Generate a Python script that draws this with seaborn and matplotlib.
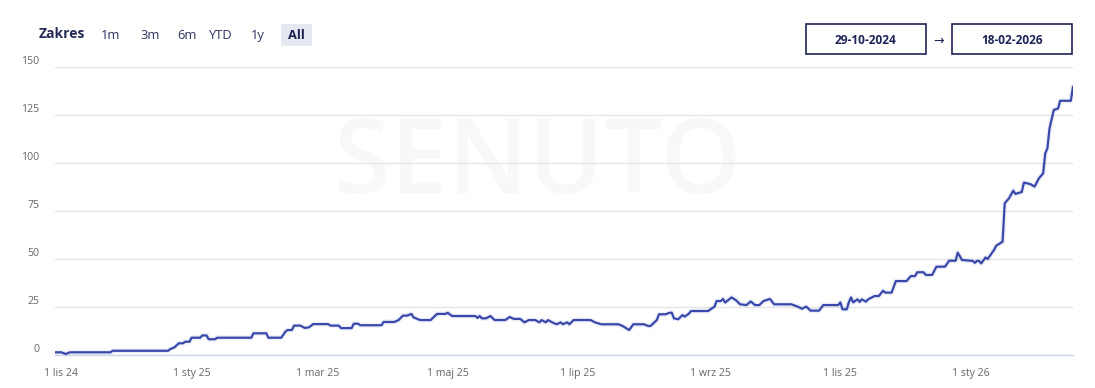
import matplotlib
matplotlib.use("Agg")
import matplotlib.pyplot as plt
from matplotlib.patches import Rectangle, FancyBboxPatch
import seaborn as sns
import pandas as pd

# ---- data -------------------------------------------------------------
dates = [
    "2024-10-29", "2024-11-01", "2024-11-03", "2024-11-05", "2024-11-24", "2024-11-25",
    "2024-12-21", "2024-12-22", "2024-12-24", "2024-12-26", "2024-12-28", "2024-12-29",
    "2024-12-31", "2025-01-01", "2025-01-05", "2025-01-06", "2025-01-08", "2025-01-09",
    "2025-01-12", "2025-01-13", "2025-01-29", "2025-01-30", "2025-02-05", "2025-02-06",
    "2025-02-12", "2025-02-14", "2025-02-15", "2025-02-17", "2025-02-18", "2025-02-21",
    "2025-02-23", "2025-02-25", "2025-02-27", "2025-03-06", "2025-03-07", "2025-03-11",
    "2025-03-12", "2025-03-17", "2025-03-18", "2025-03-20", "2025-03-21", "2025-03-31",
    "2025-04-01", "2025-04-06", "2025-04-08", "2025-04-10", "2025-04-12", "2025-04-14",
    "2025-04-15", "2025-04-18", "2025-04-23", "2025-04-26", "2025-04-30", "2025-05-01",
    "2025-05-03", "2025-05-14", "2025-05-15", "2025-05-16", "2025-05-17", "2025-05-19",
    "2025-05-21", "2025-05-23", "2025-05-28", "2025-05-30", "2025-06-01", "2025-06-04",
    "2025-06-06", "2025-06-08", "2025-06-11", "2025-06-13", "2025-06-14", "2025-06-16",
    "2025-06-17", "2025-06-19", "2025-06-21", "2025-06-23", "2025-06-24", "2025-06-26",
    "2025-06-27", "2025-06-29", "2025-07-07", "2025-07-09", "2025-07-12", "2025-07-20",
    "2025-07-22", "2025-07-25", "2025-07-27", "2025-08-01", "2025-08-03", "2025-08-04",
    "2025-08-06", "2025-08-07", "2025-08-08", "2025-08-11", "2025-08-13", "2025-08-14",
    "2025-08-15", "2025-08-17", "2025-08-19", "2025-08-20", "2025-08-22", "2025-08-23",
    "2025-08-31", "2025-09-03", "2025-09-04", "2025-09-06", "2025-09-07", "2025-09-08",
    "2025-09-11", "2025-09-13", "2025-09-15", "2025-09-18", "2025-09-20", "2025-09-22",
    "2025-09-24", "2025-09-26", "2025-09-29", "2025-10-01", "2025-10-09", "2025-10-12",
    "2025-10-14", "2025-10-16", "2025-10-18", "2025-10-22", "2025-10-24", "2025-10-31",
    "2025-11-01", "2025-11-02", "2025-11-04", "2025-11-05", "2025-11-06", "2025-11-07",
    "2025-11-09", "2025-11-10", "2025-11-11", "2025-11-13", "2025-11-14", "2025-11-17",
    "2025-11-19", "2025-11-21", "2025-11-22", "2025-11-25", "2025-11-27", "2025-12-02",
    "2025-12-04", "2025-12-06", "2025-12-07", "2025-12-10", "2025-12-11", "2025-12-14",
    "2025-12-16", "2025-12-20", "2025-12-22", "2025-12-25", "2025-12-26", "2025-12-28",
    "2026-01-02", "2026-01-03", "2026-01-04", "2026-01-05", "2026-01-06", "2026-01-08",
    "2026-01-09", "2026-01-12", "2026-01-13", "2026-01-16", "2026-01-17", "2026-01-19",
    "2026-01-21", "2026-01-22", "2026-01-25", "2026-01-26", "2026-01-29", "2026-01-31",
    "2026-02-02", "2026-02-04", "2026-02-05", "2026-02-06", "2026-02-07", "2026-02-09",
    "2026-02-11", "2026-02-12", "2026-02-17", "2026-02-18",
]
values = [
    1.4, 1.4, 0.5, 1.4, 1.4, 2.2,
    2.2, 3.1, 4.0, 6.1, 6.1, 6.9,
    6.9, 9.0, 9.0, 10.2, 10.2, 8.2,
    8.2, 9.0, 9.0, 11.3, 11.3, 9.0,
    9.0, 12.2, 13.0, 13.0, 15.3, 15.3,
    14.1, 14.4, 16.1, 16.1, 15.3, 15.3,
    14.0, 14.0, 16.3, 16.3, 15.5, 15.5,
    17.2, 17.2, 18.2, 20.5, 20.5, 21.4,
    19.6, 18.2, 18.2, 21.4, 21.4, 22.0,
    20.3, 20.3, 19.3, 20.3, 19.1, 19.1,
    20.3, 18.2, 18.2, 19.8, 18.8, 18.8,
    17.0, 18.2, 18.2, 17.0, 18.2, 17.0,
    18.2, 17.0, 16.0, 17.0, 16.0, 17.0,
    16.0, 18.2, 18.2, 17.0, 16.0, 16.0,
    15.1, 13.0, 16.0, 16.0, 15.1, 15.1,
    17.2, 18.2, 21.2, 21.2, 22.0, 22.0,
    19.1, 18.6, 20.8, 20.0, 21.5, 22.9,
    22.9, 25.2, 28.1, 28.1, 29.2, 27.3,
    30.0, 28.6, 26.4, 26.0, 27.9, 26.0,
    26.0, 28.1, 29.2, 26.4, 26.4, 25.2,
    24.1, 25.2, 23.1, 23.1, 26.0, 26.0,
    27.4, 23.8, 23.8, 27.6, 30.0, 27.4,
    29.0, 27.6, 29.0, 27.8, 29.0, 30.7,
    30.7, 33.5, 32.5, 32.5, 38.5, 38.5,
    41.1, 41.1, 43.1, 43.1, 41.7, 41.7,
    46.0, 46.0, 49.1, 49.1, 53.3, 49.5,
    49.0, 48.0, 49.0, 49.0, 47.7, 50.8,
    50.0, 54.7, 56.9, 59.0, 79.0, 81.6,
    85.6, 83.9, 84.9, 89.8, 89.0, 87.7,
    92.0, 94.6, 105.0, 107.6, 118.0, 127.6,
    128.4, 132.4, 132.4, 139.8,
]
x_tick_dates = ["2024-11-01", "2025-01-01", "2025-03-01", "2025-05-01",
                "2025-07-01", "2025-09-01", "2025-11-01", "2026-01-01"]
x_tick_labels = ["1 lis 24", "1 sty 25", "1 mar 25", "1 maj 25",
                 "1 lip 25", "1 wrz 25", "1 lis 25", "1 sty 26"]
y_ticks = [0, 25, 50, 75, 100, 125, 150]
range_buttons = ["1m", "3m", "6m", "YTD", "1y", "All"]
start_label = "29-10-2024"
end_label = "18-02-2026"

df = pd.DataFrame({"date": pd.to_datetime(dates), "value": values})

# ---- style ------------------------------------------------------------
sns.set_theme(style="white")
FONT = ["Open Sans", "DejaVu Sans"]
plt.rcParams["font.family"] = FONT

W, H = 1095, 388
fig = plt.figure(figsize=(W / 100, H / 100), dpi=100)
fig.patch.set_facecolor("white")

L, R, T, B = 55, 1073, 67, 355
ax = fig.add_axes([L / W, 1 - B / H, (R - L) / W, (B - T) / H])
ax.set_facecolor("white")

LINE = "#3949ab"
sns.lineplot(data=df, x="date", y="value", ax=ax, color=LINE, lw=3.6, alpha=0.09,
             estimator=None, sort=False, legend=False, zorder=3)
sns.lineplot(data=df, x="date", y="value", ax=ax, color=LINE, lw=1.6,
             estimator=None, sort=False, legend=False, zorder=4)

ax.set_xlim(pd.Timestamp("2024-10-29"), pd.Timestamp("2026-02-18"))
ax.set_ylim(0, 150)
ax.set_xlabel("")
ax.set_ylabel("")

ax.set_yticks(y_ticks)
ax.set_yticklabels([str(v) for v in y_ticks])
ax.set_xticks(pd.to_datetime(x_tick_dates))
ax.set_xticklabels(x_tick_labels)

ax.set_axisbelow(True)
ax.yaxis.grid(True, color="#e6e6e6", lw=1.0)
ax.xaxis.grid(False)
for s in ["top", "right", "left"]:
    ax.spines[s].set_visible(False)
ax.spines["bottom"].set_color("#ccd6eb")
ax.spines["bottom"].set_linewidth(1.0)

ax.tick_params(axis="y", length=0, pad=11.5, labelsize=7.6, labelcolor="#666666")
ax.tick_params(axis="x", length=6, width=0.8, color="#ccd6eb", direction="out",
               pad=3.5, labelsize=7.6, labelcolor="#666666")
for lab in ax.get_yticklabels():
    lab.set_verticalalignment("bottom")
    lab.set_horizontalalignment("right")
for lab in ax.get_xticklabels():
    lab.set_fontfamily(FONT)
for lab in ax.get_yticklabels():
    lab.set_fontfamily(FONT)

# watermark
ax.text(0.474, 0.655, "SENUTO", transform=ax.transAxes, ha="center", va="center",
        fontsize=74, fontweight="semibold", color="#f8f8f8", zorder=0.1,
        family=FONT)

# ---- header controls -------------------------------------------------
def fx(px):
    return px / W

def fy(py):
    return 1 - py / H

fig.text(fx(39), fy(34), "Zakres", ha="left", va="center", fontsize=10,
         fontweight="bold", color="#242a54", family=FONT)

btn_x = [111, 150, 187, 221, 258, 296]
fig.patches.append(FancyBboxPatch((fx(281), fy(46)), fx(31), 22 / H,
                                  boxstyle="round,pad=0,rounding_size=0.003",
                                  transform=fig.transFigure, facecolor="#e6e8f1",
                                  edgecolor="none", zorder=1))
for x, b in zip(btn_x, range_buttons):
    fig.text(fx(x), fy(35.5), b, ha="center", va="center", fontsize=9.3,
             fontweight="bold" if b == "All" else "normal",
             color="#1b2150" if b == "All" else "#2e3561", family=FONT, zorder=2)

# date range boxes
for x0, lab in [(805.5, start_label), (952, end_label)]:
    fig.patches.append(Rectangle((fx(x0), fy(54.3)), 120 / W, 30 / H,
                                 transform=fig.transFigure, facecolor="white",
                                 edgecolor="#1e2256", lw=1.2))
    fig.text(fx(x0 + 60), fy(40), lab, ha="center", va="center", fontsize=8.6,
             fontweight="bold", color="#1e2358", family=FONT)
fig.text(fx(938.5), fy(41), "\u2192", ha="center", va="center", fontsize=9,
         color="#1e2256", family=["DejaVu Sans"])

fig.savefig("out.png", dpi=100, facecolor="white")
